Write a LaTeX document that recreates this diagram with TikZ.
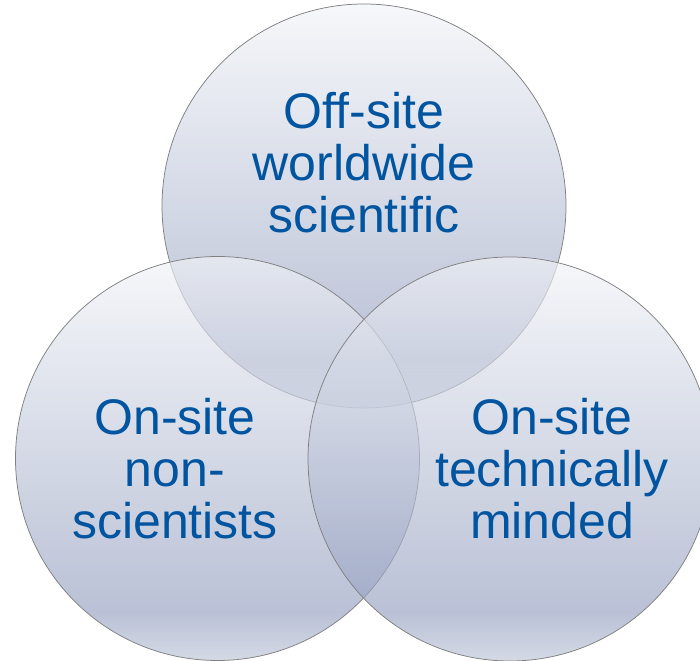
\documentclass[tikz,border=0pt]{standalone}
\usepackage{fontspec}
\setmainfont{Liberation Sans}
\usepackage{xcolor}
\usetikzlibrary{shapes.geometric}
\definecolor{vtop}{RGB}{241,243,247}
\definecolor{vdark}{RGB}{149,160,192}
\definecolor{vbot}{RGB}{189,197,215}
\definecolor{vline}{RGB}{128,128,128}
\definecolor{vtext}{RGB}{0,84,160}
\pgfdeclareverticalshading{vennshade}{100bp}{color(0bp)=(vbot); color(25bp)=(vbot);
  color(31bp)=(vdark); color(75bp)=(vtop); color(100bp)=(vtop)}
\tikzset{Venn/.style = {% styles of the three sets
      set/.style = {circle, draw=vline, line width=0.75bp,
                    minimum size=404bp, inner sep=0pt,
                    shading=vennshade, fill opacity=0.65},
    group/.style = {align=center, inner sep=0pt, text=vtext,
                    font=\fontsize{50bp}{52bp}\selectfont}}
        }

\begin{document}
\begin{tikzpicture}[Venn, x=1bp, y=1bp]
\useasboundingbox (0,0) rectangle (700,661);

% sets
\node (offsite)  [set] at (364,455)   {};
\node (nonsci)   [set] at (217.5,202.5) {};
\node (techsite) [set] at (510,202)   {};
% labels
\node (offtext)  [group] at (364,498)  {Off-site\\worldwide\\scientific};
\node (nontext)  [group] at (175,192)  {On-site\\non-\\scientists};
\node (techtext) [group] at (552,192)  {On-site\\technically\\minded};

\end{tikzpicture}
\end{document}
